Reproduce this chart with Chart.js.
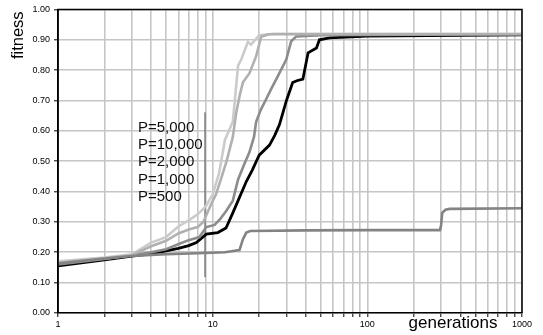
<!DOCTYPE html>
<html>
<head>
<meta charset="utf-8">
<script src="https://cdn.jsdelivr.net/npm/chart.js@4/dist/chart.umd.min.js"></script>
<style>
html,body{margin:0;padding:0;background:#fff;}
#wrap{width:543px;height:335px;}
</style>
</head>
<body>
<div id="wrap"><canvas id="c" width="543" height="335"></canvas></div>
<script>
// ---- data ----
const genP5000 = [1, 2, 3, 4, 5, 6, 7, 8, 9, 10, 11, 12, 13.5, 14.6, 15.3, 16.9, 17.7, 20, 25, 1000];
const fitP5000 = [0.17, 0.183, 0.193, 0.232, 0.25, 0.285, 0.305, 0.325, 0.35, 0.39, 0.46, 0.57, 0.63, 0.815, 0.835, 0.893, 0.884, 0.915, 0.92, 0.92];

const genP10000 = [1, 2, 3, 4, 5, 6, 7, 8, 8.7, 9.8, 10.5, 11.3, 12.3, 13.5, 14.2, 15, 15.7, 17.3, 19.1, 20.6, 23, 1000];
const fitP10000 = [0.165, 0.18, 0.19, 0.22, 0.238, 0.262, 0.275, 0.283, 0.3, 0.36, 0.39, 0.44, 0.5, 0.58, 0.66, 0.72, 0.76, 0.79, 0.846, 0.91, 0.918, 0.918];

const genP2000 = [1, 2, 3, 4, 5, 6.1, 7, 8.2, 9.1, 10.3, 11.2, 12.2, 13.5, 14.6, 16, 17.3, 18.5, 19.1, 20.5, 22.2, 24, 26.4, 29.9, 32.2, 34.7, 50, 1000];
const fitP2000 = [0.16, 0.178, 0.19, 0.2, 0.21, 0.228, 0.24, 0.25, 0.283, 0.29, 0.31, 0.335, 0.37, 0.44, 0.49, 0.53, 0.58, 0.63, 0.67, 0.705, 0.74, 0.78, 0.835, 0.895, 0.911, 0.915, 0.918];

const genP1000 = [1, 2, 3, 4, 5, 6, 7, 7.85, 9.1, 10.8, 12.2, 13.5, 14.6, 16.5, 18, 20, 23.3, 25.2, 27, 28.5, 30, 32.9, 35, 38.3, 41.4, 46.9, 49, 57, 100, 1000];
const fitP1000 = [0.155, 0.175, 0.187, 0.195, 0.205, 0.213, 0.222, 0.232, 0.26, 0.265, 0.28, 0.33, 0.37, 0.433, 0.47, 0.52, 0.553, 0.585, 0.62, 0.661, 0.7, 0.759, 0.765, 0.77, 0.857, 0.873, 0.9, 0.906, 0.912, 0.916];

const genP500 = [1, 1.86, 3, 5, 8, 12, 14.9, 15.7, 16.5, 17.5, 40, 100, 295, 300, 305, 320, 340, 1000];
const fitP500 = [0.163, 0.178, 0.188, 0.194, 0.197, 0.2, 0.207, 0.243, 0.265, 0.27, 0.272, 0.273, 0.273, 0.29, 0.33, 0.34, 0.343, 0.345];

// legend pointer line
const genMarker = [8.92, 8.92];
const fitMarker = [0.118, 0.661];

const legendLabels = ['P=5,000', 'P=10,000', 'P=2,000', 'P=1,000', 'P=500'];
const xTickValues = [1,2,3,4,5,6,7,8,9,10,20,30,40,50,60,70,80,90,100,200,300,400,500,600,700,800,900,1000];
const xLabelValues = [1, 10, 100, 1000];
const yTickValues = [0, 0.1, 0.2, 0.3, 0.4, 0.5, 0.6, 0.7, 0.8, 0.9, 1.0];

function pts(xs, ys){ return xs.map((x,i)=>({x:x, y:ys[i]})); }

const FONT = "'Liberation Sans', Arial, sans-serif";

const overlay = {
  id: 'overlay',
  afterDraw(chart){
    const ctx = chart.ctx, a = chart.chartArea;
    ctx.save();
    // frame
    ctx.strokeStyle = '#000';
    ctx.lineWidth = 1.5;
    ctx.beginPath();
    ctx.moveTo(a.left, a.bottom); ctx.lineTo(a.left, a.top); ctx.lineTo(a.right, a.top); ctx.lineTo(a.right, a.bottom);
    ctx.stroke();
    // legend text
    ctx.fillStyle = '#111';
    ctx.font = '15px ' + FONT;
    ctx.textAlign = 'left';
    ctx.textBaseline = 'middle';
    legendLabels.forEach((t,i)=>{ ctx.fillText(t, a.left + 80, a.top + 118 + i*17.4); });
    // axis titles
    ctx.font = '17px ' + FONT;
    ctx.fillStyle = '#000';
    ctx.textAlign = 'center';
    ctx.fillText('generations', 453, 323);
    ctx.translate(18, a.top + 2);
    ctx.rotate(-Math.PI/2);
    ctx.font = '16.5px ' + FONT;
    ctx.textAlign = 'right';
    ctx.fillText('fitness', 0, 0);
    ctx.restore();
  }
};

const ds = (label, xs, ys, color, w) => ({
  label, data: pts(xs, ys), borderColor: color, backgroundColor: color,
  borderWidth: w, pointRadius: 0, tension: 0, fill: false
});

new Chart(document.getElementById('c'), {
  type: 'line',
  data: {
    datasets: [
      ds('P=500', genP500, fitP500, '#838383', 2.6),
      ds('P=10,000', genP10000, fitP10000, '#b0b0b0', 2.6),
      ds('P=5,000', genP5000, fitP5000, '#cbcbcb', 2.6),
      ds('P=2,000', genP2000, fitP2000, '#8c8c8c', 2.6),
      ds('P=1,000', genP1000, fitP1000, '#000000', 2.8),
      ds('marker', genMarker, fitMarker, '#4a4a4a', 1)
    ]
  },
  options: {
    responsive: false,
    animation: false,
    events: [],
    layout: { padding: { top: 6, right: 21, left: 0, bottom: 0 } },
    plugins: { legend: { display: false }, tooltip: { enabled: false } },
    scales: {
      x: {
        type: 'logarithmic', min: 1, max: 1000,
        afterBuildTicks: s => { s.ticks = xTickValues.map(v => ({value: v})); },
        afterFit: s => { s.height = 22; },
        ticks: {
          autoSkip: false, maxRotation: 0, minRotation: 0, padding: 2,
          color: '#000', font: { family: FONT, size: 9 },
          callback: v => xLabelValues.includes(v) ? String(v) : ''
        },
        grid: { color: '#c6c6c6', lineWidth: 1.6, tickLength: 4, tickColor: '#000', tickWidth: 1 },
        border: { color: '#000', width: 1.5 }
      },
      y: {
        min: 0, max: 1,
        afterBuildTicks: s => { s.ticks = yTickValues.map(v => ({value: v})); },
        afterFit: s => { s.width = 58; },
        ticks: {
          padding: 4, color: '#000', font: { family: FONT, size: 9 },
          callback: v => Number(v).toFixed(2)
        },
        grid: { color: '#c6c6c6', lineWidth: 1.6, tickLength: 4, tickColor: '#000', tickWidth: 1 },
        border: { color: '#000', width: 1.5 }
      }
    }
  },
  plugins: [overlay]
});
</script>
</body>
</html>
